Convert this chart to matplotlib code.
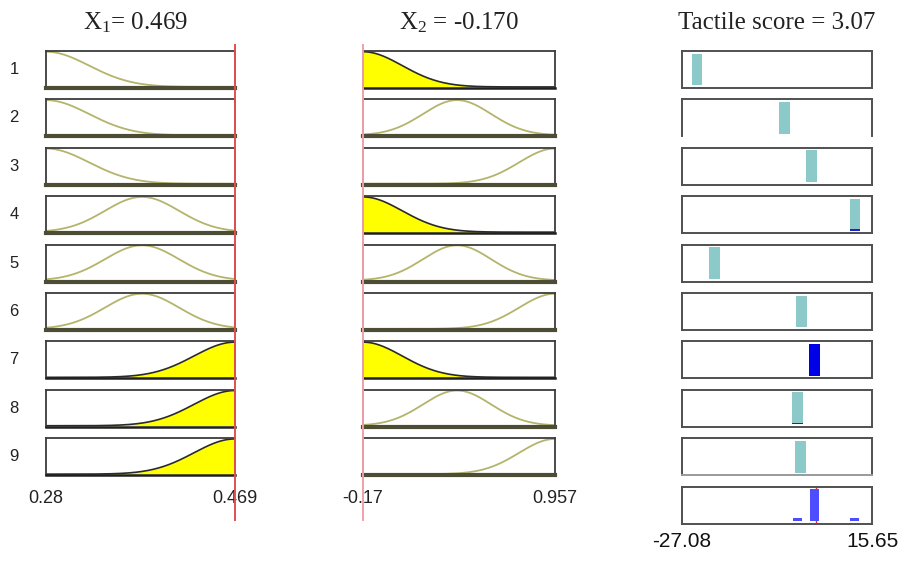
import numpy as np
import matplotlib
matplotlib.use('Agg')
import matplotlib.pyplot as plt

plt.rcParams['mathtext.fontset'] = 'custom'
plt.rcParams['mathtext.rm'] = 'Liberation Serif'
plt.rcParams['mathtext.it'] = 'Liberation Serif:italic'

# ---------------- data ----------------
rule_labels = ['1', '2', '3', '4', '5', '6', '7', '8', '9']

x1_range = [0.28, 0.469]
x1_ticklabels = ['0.28', '0.469']
x1_value = 0.469
x1_title = r'X$_{1}$= 0.469'
# gaussian membership functions: (sigma, centre)
x1_mf_params = {'low': (0.043, 0.28), 'mid': (0.037, 0.376), 'high': (0.041, 0.469)}
x1_rule_mf = ['low', 'low', 'low', 'mid', 'mid', 'mid', 'high', 'high', 'high']
x1_active = [False, False, False, False, False, False, True, True, True]

x2_range = [-0.17, 0.957]
x2_ticklabels = ['-0.17', '0.957']
x2_value = -0.17
x2_title = r'X$_{2}$ = -0.170'
x2_mf_params = {'low': (0.23, -0.17), 'mid': (0.20, 0.382), 'high': (0.21, 0.957)}
x2_rule_mf = ['low', 'mid', 'high', 'low', 'mid', 'high', 'low', 'mid', 'high']
x2_active = [True, False, False, True, False, False, True, False, False]

out_range = [-27.08, 15.65]
out_ticklabels = ['-27.08', '15.65']
out_title = 'Tactile score = 3.07'
output_value = 3.07
out_values = [-23.7, -4.0, 2.05, 11.8, -19.8, -0.25, 2.72, -1.1, -0.45]
firing = [0.0, 0.0, 0.0, 0.05, 0.0, 0.0, 1.0, 0.05, 0.0]
agg_firing = [0.0, 0.0, 0.0, 0.08, 0.0, 0.0, 1.0, 0.08, 0.0]

# ---------------- layout ----------------
W, H = 900, 562
fig = plt.figure(figsize=(9, 5.62), dpi=100)

col_left = [46, 363, 682]
col_width = [189, 192, 190]
row_top0 = 51
row_pitch = 48.4
row_h = 37


def rect(left, top, w, h):
    return [left / W, 1 - (top + h) / H, w / W, h / H]


def gauss(x, s, c):
    return np.exp(-(x - c) ** 2 / (2 * s ** 2))


box_col = '#3c3c3c'
curve_col = '#b4b46c'
base_col = '#4d4d36'


def input_column(ci, rng, params, rule_mf, active, ticklabels):
    axes = []
    xs = np.linspace(rng[0], rng[1], 300)
    for r in range(9):
        ax = fig.add_axes(rect(col_left[ci], row_top0 + r * row_pitch, col_width[ci], row_h))
        s, c = params[rule_mf[r]]
        y = gauss(xs, s, c)
        if active[r]:
            ax.fill_between(xs, 0, y, color='#ffff00', lw=0)
            ax.plot(xs, y, color='#2a2a2a', lw=1.2)
        else:
            ax.plot(xs, y, color=curve_col, lw=1.3)
        ax.set_xlim(rng)
        ax.set_ylim(-0.03, 1.02)
        ax.set_yticks([])
        ax.set_xticks([])
        for sp in ax.spines.values():
            sp.set_color(box_col)
            sp.set_linewidth(1.3)
        if active[r]:
            ax.spines['bottom'].set_linewidth(1.8)
            ax.spines['bottom'].set_color('#202020')
        else:
            ax.spines['bottom'].set_linewidth(3)
            ax.spines['bottom'].set_color(base_col)
        axes.append(ax)
    axb = axes[-1]
    axb.set_xticks(rng)
    axb.set_xticklabels(ticklabels, family='Liberation Sans', fontsize=13, color='#222222')
    axb.tick_params(axis='x', length=0, pad=11)
    return axes


ax1 = input_column(0, x1_range, x1_mf_params, x1_rule_mf, x1_active, x1_ticklabels)
ax2 = input_column(1, x2_range, x2_mf_params, x2_rule_mf, x2_active, x2_ticklabels)

# output column
teal = '#8ccaca'
for r in range(10):
    ax = fig.add_axes(rect(col_left[2], row_top0 + r * row_pitch, col_width[2], row_h))
    ax.set_xlim(out_range)
    ax.set_ylim(-0.08, 1.08)
    ax.set_xticks([])
    ax.set_yticks([])
    for sp in ax.spines.values():
        sp.set_color('#505050')
        sp.set_linewidth(1.4)
    if r < 9:
        ax.bar(out_values[r], 1.0, width=2.4, bottom=0, color=teal, lw=0)
        if firing[r] > 0:
            ax.bar(out_values[r], firing[r], width=2.4, bottom=0,
                   color='#0000e6' if firing[r] >= 1 else '#2020d0', lw=0)
        if r == 1:
            ax.spines['bottom'].set_visible(False)
        if r == 8:
            ax.spines['bottom'].set_color('#9a9a9a')
    else:
        ax.axvline(output_value, color='#e03030', lw=1.0, ymin=0.04, ymax=0.96, zorder=1)
        for v, f in zip(out_values, agg_firing):
            if f > 0:
                ax.bar(v, f, width=2.0, bottom=0, color='#4d4dff', lw=0, zorder=3)
        ax.set_xticks(out_range)
        ax.set_xticklabels(out_ticklabels, family='Liberation Sans', fontsize=15, color='#111111')
        ax.tick_params(axis='x', length=0, pad=6)

# red input lines
for ci, rng, val, colr in [(0, x1_range, x1_value, '#e05050'), (1, x2_range, x2_value, '#f0a0aa')]:
    ov = fig.add_axes(rect(col_left[ci], 45, col_width[ci], 475))
    ov.set_xlim(rng)
    ov.set_ylim(0, 1)
    ov.axis('off')
    ov.patch.set_visible(False)
    ov.axvline(val, color=colr, lw=1.4, clip_on=False)

# titles
for ci, t in enumerate([x1_title, x2_title, out_title]):
    cx = (col_left[ci] + col_width[ci] / 2) / W
    if ci == 0:
        cx -= 5 / W
    fig.text(cx, 1 - 23 / H, t, family='Liberation Serif', fontsize=18,
             ha='center', va='center', color='#222222')

# rule numbers
for r, lab in enumerate(rule_labels):
    yc = row_top0 + r * row_pitch + row_h / 2
    fig.text(14 / W, 1 - yc / H, lab, family='Liberation Sans', fontsize=12,
             ha='center', va='center', color='#222222')

fig.savefig('out.png', dpi=100)
